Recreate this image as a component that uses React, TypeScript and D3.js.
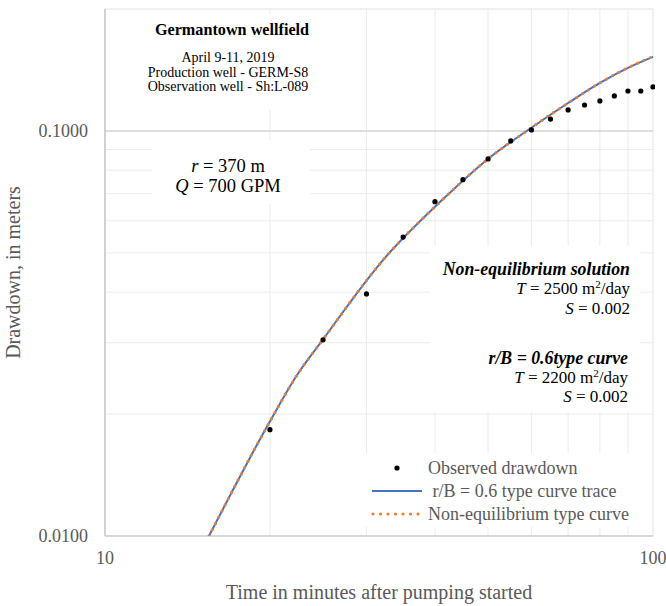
import React from "react";
import * as d3 from "d3";

const obsTime = [20, 25, 30, 35, 40, 45, 50, 55, 60, 65, 70, 75, 80, 85, 90, 95, 100];
const obsDrawdown = [0.0183, 0.0305, 0.0396, 0.0547, 0.0669, 0.0758, 0.0853, 0.0945, 0.1006, 0.107, 0.1127, 0.1159, 0.1186, 0.122, 0.1255, 0.1255, 0.1284];

const curveTime = [15.48, 19.92, 22.38, 24.96, 32.16, 41.4, 50, 59.9, 70, 80, 90.8, 100];
const leakyCurve = [0.01, 0.0190, 0.0249, 0.0305, 0.048, 0.0679, 0.0853, 0.1017, 0.1172, 0.1314, 0.1439, 0.1523];
const theisCurve = [0.01, 0.0190, 0.0249, 0.0305, 0.048, 0.0679, 0.0853, 0.1017, 0.1172, 0.1314, 0.1441, 0.1527];

const xTicks = [10, 100];
const xMinor = [20, 30, 40, 50, 60, 70, 80, 90];
const yTicks = [0.01, 0.1];
const yMinor = [0.02, 0.03, 0.04, 0.05, 0.06, 0.07, 0.08, 0.09];

const legendLabels = ["Observed drawdown", " r/B = 0.6 type curve trace", "Non-equilibrium type curve"];

const FONT = "'Liberation Serif', 'Times New Roman', serif";
const BLUE = "#4472C4";
const ORANGE = "#ED7D31";

export default function App() {
  const W = 666, H = 606;
  const left = 105, right = 653, top = 9, bottom = 536;
  const x = d3.scaleLog().domain([10, 100]).range([left, right]);
  const y = d3.scaleLog().domain([0.01, 0.2]).range([bottom, top]);

  const line = d3
    .line<number>()
    .x((_, i) => x(curveTime[i]))
    .y((d) => y(d))
    .curve(d3.curveMonotoneX);

  return (
    <svg width={W} height={H} style={{ position: "absolute", left: 0, top: 0, background: "#fff" }} fontFamily={FONT}>
      <defs>
        <clipPath id="plotclip">
          <rect x={left} y={top - 2} width={right - left + 2} height={bottom - top + 2} />
        </clipPath>
      </defs>
      <rect x={0} y={0} width={W} height={H} fill="#fff" />
      {/* plot border */}
      <rect x={left} y={top} width={right - left} height={bottom - top} fill="none" stroke="#e3e3e3" strokeWidth={1} />
      {/* minor gridlines */}
      {xMinor.map((v) => (
        <line key={"xm" + v} x1={x(v)} x2={x(v)} y1={top} y2={bottom} stroke="#ececec" strokeWidth={1} />
      ))}
      {yMinor.map((v) => (
        <line key={"ym" + v} x1={left} x2={right} y1={y(v)} y2={y(v)} stroke="#ececec" strokeWidth={1} />
      ))}
      {/* major gridline */}
      <line x1={left} x2={right} y1={y(0.1)} y2={y(0.1)} stroke="#d4d4d4" strokeWidth={1.5} />
      {/* axes */}
      <line x1={left} x2={left} y1={top} y2={bottom} stroke="#bfbfbf" strokeWidth={1.2} />
      <line x1={left} x2={right} y1={bottom} y2={bottom} stroke="#bfbfbf" strokeWidth={1.2} />

      {/* text boxes (white) */}
      <rect x={145} y={14} width={170} height={96} fill="#fff" />
      <rect x={152} y={140} width={158} height={64} fill="#fff" />
      <rect x={430} y={246} width={210} height={166} fill="#fff" />
      <rect x={355} y={453} width={285} height={74} fill="#fff" />

      {/* series */}
      <g clipPath="url(#plotclip)">
        <path d={line(leakyCurve) || ""} fill="none" stroke={BLUE} strokeWidth={2} />
        <path
          d={line(theisCurve) || ""}
          fill="none"
          stroke={ORANGE}
          strokeWidth={3.2}
          strokeLinecap="round"
          strokeDasharray="0 7"
        />
        {obsTime.map((t, i) => (
          <circle key={"o" + i} cx={x(t)} cy={y(obsDrawdown[i])} r={2.6} fill="#000" />
        ))}
      </g>

      {/* tick labels */}
      {yTicks.map((v) => (
        <text key={"yt" + v} x={88} y={y(v) + 6} textAnchor="end" fontSize={18} fill="#595959">
          {v.toFixed(4)}
        </text>
      ))}
      {xTicks.map((v) => (
        <text key={"xt" + v} x={x(v)} y={564} textAnchor="middle" fontSize={18} fill="#595959">
          {v}
        </text>
      ))}

      {/* axis titles */}
      <text x={(left + right) / 2} y={599} textAnchor="middle" fontSize={20} fill="#595959">
        Time in minutes after pumping started
      </text>
      <text
        transform={`translate(20, ${(top + bottom) / 2}) rotate(-90)`}
        textAnchor="middle"
        fontSize={20}
        fill="#595959"
      >
        Drawdown, in meters
      </text>

      {/* title box */}
      <text x={232} y={35} textAnchor="middle" fontSize={16.2} fontWeight="bold" fill="#000">
        Germantown wellfield
      </text>
      <text x={228} y={62} textAnchor="middle" fontSize={14} fill="#000">
        April 9-11, 2019
      </text>
      <text x={228} y={76.5} textAnchor="middle" fontSize={14} fill="#000">
        Production well - GERM-S8
      </text>
      <text x={228} y={91} textAnchor="middle" fontSize={14} fill="#000">
        Observation well - Sh:L-089
      </text>

      {/* r, Q box */}
      <text x={228} y={172} textAnchor="middle" fontSize={18.5} fill="#000">
        <tspan fontStyle="italic">r</tspan> = 370 m
      </text>
      <text x={228} y={191.5} textAnchor="middle" fontSize={18.5} fill="#000">
        <tspan fontStyle="italic">Q</tspan> = 700 GPM
      </text>

      {/* parameters box */}
      <text x={630} y={275} textAnchor="end" fontSize={17.8} fontWeight="bold" fontStyle="italic" fill="#000">
        Non-equilibrium solution
      </text>
      <text x={630} y={294} textAnchor="end" fontSize={17} fill="#000">
        <tspan fontStyle="italic">T</tspan> = 2500 m<tspan fontSize={11} dy={-6}>2</tspan>
        <tspan dy={6}>/day</tspan>
      </text>
      <text x={630} y={314} textAnchor="end" fontSize={17} fill="#000">
        <tspan fontStyle="italic">S</tspan> = 0.002
      </text>
      <text x={628} y={364} textAnchor="end" fontSize={17.8} fontWeight="bold" fontStyle="italic" fill="#000">
        r/B = 0.6type curve
      </text>
      <text x={628} y={383} textAnchor="end" fontSize={17} fill="#000">
        <tspan fontStyle="italic">T</tspan> = 2200 m<tspan fontSize={11} dy={-6}>2</tspan>
        <tspan dy={6}>/day</tspan>
      </text>
      <text x={628} y={402} textAnchor="end" fontSize={17} fill="#000">
        <tspan fontStyle="italic">S</tspan> = 0.002
      </text>

      {/* legend */}
      <circle cx={397} cy={468} r={2.6} fill="#000" />
      <line x1={372} x2={422} y1={491} y2={491} stroke={BLUE} strokeWidth={2} />
      <line
        x1={373}
        x2={421}
        y1={514}
        y2={514}
        stroke={ORANGE}
        strokeWidth={3.2}
        strokeLinecap="round"
        strokeDasharray="0 7.5"
      />
      {legendLabels.map((t, i) => (
        <text key={"lg" + i} x={428} y={474 + i * 23} fontSize={18} fill="#595959" style={{ whiteSpace: "pre" }}>
          {t}
        </text>
      ))}
    </svg>
  );
}
